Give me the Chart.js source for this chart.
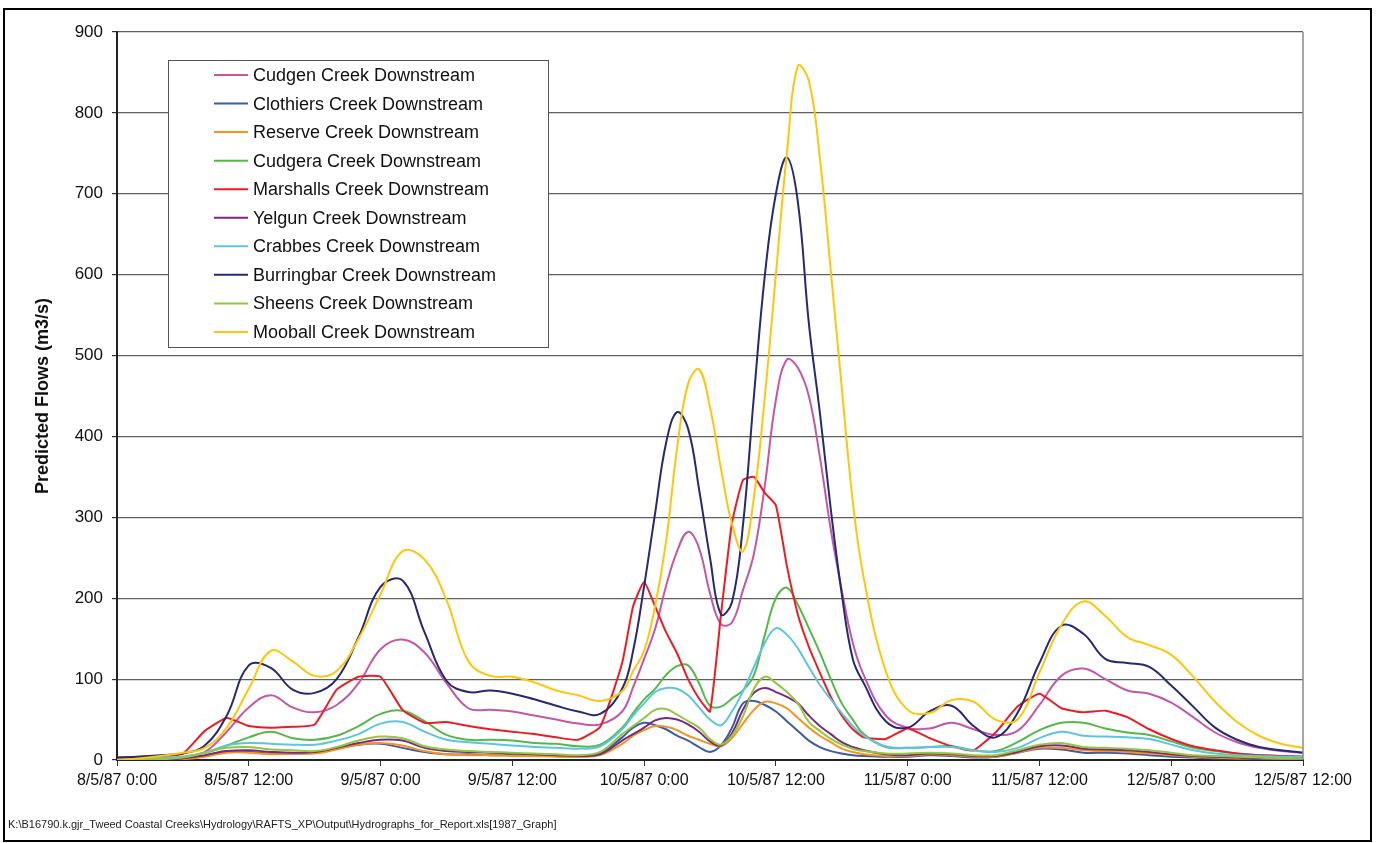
<!DOCTYPE html>
<html>
<head>
<meta charset="utf-8">
<script src="https://cdn.jsdelivr.net/npm/chart.js@4.4.1/dist/chart.umd.min.js"></script>
<style>
  html, body { margin: 0; padding: 0; background: #fff; }
  #wrap { position: relative; width: 1376px; height: 843px; }
</style>
</head>
<body>
<div id="wrap"><canvas id="flows" width="1376" height="843"></canvas></div>
<script>
// hours since 8/5/87 0:00 (hourly through the main storm, 2-hourly elsewhere)
const hours = [0,2,4,6,8,10,12,14,16,18,20,22,24,26,28,30,32,34,36,38,40,42,44,
  46,47,48,49,50,51,52,53,54,55,56,57,58,59,60,61,62,63,64,65,66,67,68,
  70,72,74,76,78,80,82,84,86,88,90,92,94,96,98,100,102,104,106,108];

const tickLabels = ['8/5/87 0:00','8/5/87 12:00','9/5/87 0:00','9/5/87 12:00','10/5/87 0:00',
  '10/5/87 12:00','11/5/87 0:00','11/5/87 12:00','12/5/87 0:00','12/5/87 12:00'];

const seriesNames = ['Cudgen Creek Downstream','Clothiers Creek Downstream','Reserve Creek Downstream',
  'Cudgera Creek Downstream','Marshalls Creek Downstream','Yelgun Creek Downstream',
  'Crabbes Creek Downstream','Burringbar Creek Downstream','Sheens Creek Downstream','Mooball Creek Downstream'];

const seriesColors = ['#C457A8','#3B5CAA','#F7941D','#55B947','#EC1C24','#7A2A82',
  '#5CC6DE','#252A72','#92C83E','#FFC60B'];

const cudgen = [0,1,2,3,10,35,65,80,65,59,68,95,137,149,133,95,64,62,60,55,50,45,44,
  60,90,125,162,215,258,282,262,206,168,170,210,255,340,445,495,485,450,375,285,210,145,105,
  55,40,39,46,38,31,36,68,104,113,100,86,82,71,53,34,22,15,11,9];
const clothiers = [0,0,1,2,5,11,10,8,8,9,14,19,20,15,10,7,7,6,6,5,5,4,8,
  28,40,46,43,38,30,24,16,10,18,40,70,73,68,60,48,36,24,16,11,8,6,5,
  4,4,6,5,3,4,9,14,13,9,9,8,6,4,3,2,2,2,1,1];
const reserve = [0,0,1,1,4,9,9,7,8,8,13,19,21,18,11,7,6,6,5,5,4,4,6,
  20,30,37,42,41,37,30,25,20,17,27,45,62,72,70,64,52,40,30,22,14,10,7,
  5,5,7,6,4,4,9,15,15,12,11,10,8,6,4,3,2,2,1,1];
const cudgera = [0,1,2,4,9,18,28,35,27,25,30,42,57,61,48,31,25,25,24,21,20,17,19,
  40,58,75,88,105,116,117,95,67,66,76,86,105,155,200,213,192,163,133,100,70,50,32,
  16,15,16,17,12,11,22,37,46,46,39,34,31,23,15,11,8,6,5,4];
const marshalls = [3,4,5,8,36,52,42,40,41,44,87,103,103,62,46,47,42,38,35,32,28,25,41,
  120,190,220,190,158,132,100,76,60,180,293,346,350,330,315,240,180,140,108,78,55,38,28,
  26,39,27,17,12,34,66,82,64,59,61,53,38,26,17,12,8,6,5,4];
const yelgun = [0,0,1,2,6,11,12,10,9,10,15,21,25,24,15,11,10,9,8,7,6,5,7,
  24,32,40,49,52,50,44,35,23,18,33,62,83,89,84,78,70,55,42,32,22,16,12,
  7,6,8,7,5,5,10,17,18,14,13,12,10,7,5,4,3,2,2,2];
const crabbes = [0,1,2,4,9,18,21,20,19,19,24,32,45,47,35,25,22,20,18,16,15,14,17,
  38,55,70,84,89,88,80,65,50,43,60,85,115,145,163,155,138,115,93,75,58,42,30,
  17,15,16,16,12,10,15,27,35,30,29,28,26,19,12,8,6,5,4,4];
const burringbar = [3,4,6,8,18,55,117,114,87,83,100,152,214,222,158,98,84,86,82,75,67,60,57,
  88,135,215,305,392,430,410,335,250,180,195,290,450,600,700,745,690,540,430,310,205,125,95,
  48,40,60,67,42,28,58,120,166,156,125,120,115,92,66,40,25,16,12,9];
const sheens = [0,1,1,3,9,15,16,13,12,11,16,24,29,27,17,13,11,10,9,8,7,6,10,
  32,42,52,62,63,56,48,40,26,19,30,54,88,103,95,84,70,47,36,26,19,14,11,
  8,8,9,8,6,6,12,19,21,16,15,14,12,9,6,5,4,3,2,2];
const mooball = [0,2,5,9,15,40,88,135,122,104,110,150,205,258,248,198,122,104,103,96,86,80,73,
  85,110,135,190,270,385,465,483,436,360,292,258,325,450,600,750,858,840,745,605,460,320,225,
  110,62,58,74,72,50,50,108,167,196,178,152,142,130,103,72,47,30,20,15];

const seriesValues = [cudgen, clothiers, reserve, cudgera, marshalls, yelgun, crabbes, burringbar, sheens, mooball];

const FONT = "'Liberation Sans', Arial, sans-serif";
Chart.defaults.font.family = FONT;

const datasets = seriesNames.map((name, i) => ({
  label: name,
  data: hours.map((h, k) => ({ x: h, y: seriesValues[i][k] })),
  borderColor: seriesColors[i],
  backgroundColor: seriesColors[i],
  borderWidth: 2,
  pointRadius: 0,
  fill: false,
  tension: name.startsWith('Marshalls') ? 0.15 : 0.4,
  order: -i
}));

// frame, footer, plot border and the boxed legend (Excel style)
const framePlugin = {
  id: 'frame',
  beforeDraw(chart) {
    const c = chart.ctx;
    c.save();
    c.fillStyle = '#fff';
    c.fillRect(0, 0, chart.width, chart.height);
    c.restore();
  },
  afterDraw(chart) {
    const c = chart.ctx;
    const a = chart.chartArea;
    c.save();
    // right edge of plot area
    c.strokeStyle = '#888';
    c.lineWidth = 1.5;
    c.beginPath();
    c.moveTo(a.right, a.top);
    c.lineTo(a.right, a.bottom);
    c.stroke();

    // outer border
    c.strokeStyle = '#000';
    c.lineWidth = 2;
    c.strokeRect(4, 9, 1367, 832);

    // file path footer
    c.fillStyle = '#222';
    c.font = '11px ' + FONT;
    c.textBaseline = 'middle';
    c.fillText('K:\\B16790.k.gjr_Tweed Coastal Creeks\\Hydrology\\RAFTS_XP\\Output\\Hydrographs_for_Report.xls[1987_Graph]', 8, 825);

    // legend
    const lx = 168, ly = 60, lw = 380, lh = 287;
    c.fillStyle = '#fff';
    c.fillRect(lx, ly, lw, lh);
    c.strokeStyle = '#555';
    c.lineWidth = 1;
    c.strokeRect(lx + 0.5, ly + 0.5, lw, lh);
    c.font = '18px ' + FONT;
    c.textBaseline = 'middle';
    chart.data.datasets.forEach((ds, i) => {
      const y = 75 + i * 28.55;
      c.strokeStyle = ds.borderColor;
      c.lineWidth = 2;
      c.beginPath();
      c.moveTo(214, y);
      c.lineTo(248, y);
      c.stroke();
      c.fillStyle = '#111';
      c.fillText(ds.label, 253, y + 1);
    });
    c.restore();
  }
};

new Chart(document.getElementById('flows'), {
  type: 'line',
  data: { datasets },
  options: {
    responsive: false,
    animation: false,
    devicePixelRatio: 1,
    layout: { padding: { top: 32, right: 73, bottom: 0, left: 0 } },
    plugins: {
      legend: { display: false },
      tooltip: { enabled: false }
    },
    scales: {
      x: {
        type: 'linear',
        min: 0,
        max: 108,
        afterFit: s => { s.height = 83; },
        ticks: {
          stepSize: 12,
          autoSkip: false,
          maxRotation: 0,
          padding: 5,
          color: '#111',
          font: { size: 16 },
          callback: v => tickLabels[v / 12]
        },
        grid: { drawOnChartArea: false, tickLength: 6, color: '#333' },
        border: { color: '#222', width: 2 }
      },
      y: {
        min: 0,
        max: 900,
        afterFit: s => { s.width = 117; },
        ticks: { stepSize: 100, padding: 9, color: '#111', font: { size: 17 } },
        grid: { color: '#606060', lineWidth: 1.2, tickLength: 5, tickColor: '#333' },
        border: { color: '#222', width: 2 },
        title: {
          display: true,
          text: 'Predicted Flows (m3/s)',
          color: '#111',
          font: { size: 18, weight: 'bold' },
          padding: { top: 32, bottom: 0 }
        }
      }
    }
  },
  plugins: [framePlugin]
});
</script>
</body>
</html>
